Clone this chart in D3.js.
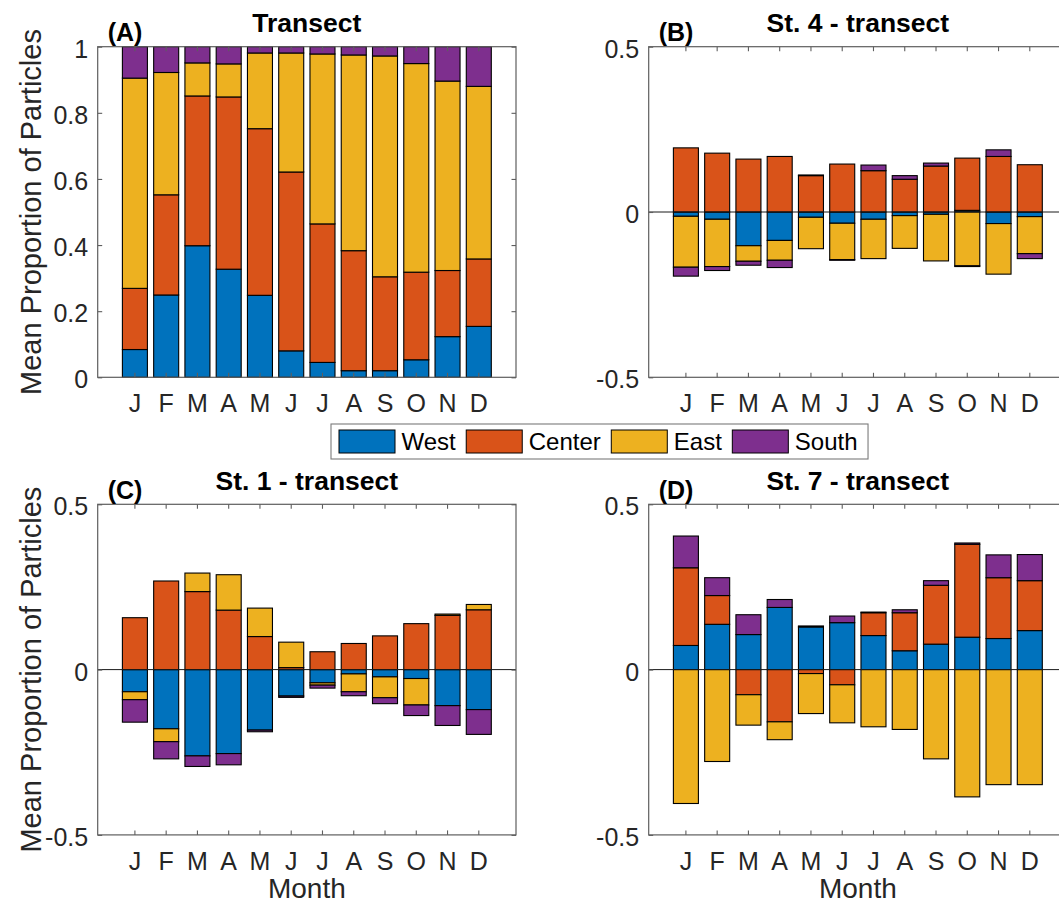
<!DOCTYPE html>
<html>
<head>
<meta charset="utf-8">
<script src="https://cdn.jsdelivr.net/npm/d3@7"></script>
<style>
  body { margin: 0; background: #fff; }
  svg { display: block; }
  text { font-family: "Liberation Sans", Arial, Helvetica, sans-serif; }
</style>
</head>
<body>
<svg id="fig" width="1059" height="911"></svg>
<script>
// Month tick labels and source regions
const monthLabels = ["J", "F", "M", "A", "M", "J", "J", "A", "S", "O", "N", "D"];
const regions = ["West", "Center", "East", "South"];
const regionColors = ["#0072BD", "#D95319", "#EDB120", "#7E2F8E"];

// (A) Transect: mean proportion of particles by source region
const transectWest   = [0.084, 0.249, 0.398, 0.327, 0.248, 0.080, 0.045, 0.020, 0.020, 0.053, 0.123, 0.154];
const transectCenter = [0.185, 0.303, 0.453, 0.521, 0.504, 0.541, 0.419, 0.363, 0.284, 0.265, 0.200, 0.204];
const transectEast   = [0.636, 0.370, 0.100, 0.100, 0.229, 0.360, 0.514, 0.592, 0.668, 0.631, 0.573, 0.522];
const transectSouth  = [0.095, 0.078, 0.049, 0.052, 0.019, 0.019, 0.022, 0.025, 0.028, 0.051, 0.104, 0.120];

// (B) St. 4 minus transect
const st4West   = [-0.013, -0.022, -0.102, -0.086, -0.016, -0.034, -0.022, -0.011, -0.007, 0.005, -0.035, -0.014];
const st4Center = [0.194, 0.178, 0.160, 0.168, 0.110, 0.145, 0.125, 0.099, 0.139, 0.158, 0.168, 0.143];
const st4East   = [-0.154, -0.143, -0.047, -0.060, -0.095, -0.110, -0.119, -0.099, -0.141, -0.163, -0.153, -0.112];
const st4South  = [-0.027, -0.012, -0.012, -0.022, 0.002, -0.002, 0.017, 0.011, 0.009, -0.002, 0.020, -0.015];

// (C) St. 1 minus transect
const st1West   = [-0.067, -0.179, -0.261, -0.254, -0.183, -0.080, -0.040, -0.013, -0.022, -0.027, -0.109, -0.121];
const st1Center = [0.157, 0.268, 0.236, 0.180, 0.100, 0.006, 0.054, 0.079, 0.102, 0.139, 0.164, 0.181];
const st1East   = [-0.024, -0.039, 0.056, 0.107, 0.086, 0.077, -0.007, -0.054, -0.063, -0.080, 0.004, 0.016];
const st1South  = [-0.068, -0.052, -0.032, -0.034, -0.005, -0.004, -0.009, -0.012, -0.018, -0.032, -0.060, -0.075];

// (D) St. 7 minus transect
const st7West   = [0.073, 0.137, 0.106, 0.188, 0.129, 0.142, 0.103, 0.057, 0.077, 0.098, 0.094, 0.118];
const st7Center = [0.235, 0.087, -0.076, -0.158, -0.012, -0.046, 0.069, 0.115, 0.178, 0.281, 0.184, 0.151];
const st7East   = [-0.405, -0.278, -0.092, -0.054, -0.121, -0.115, -0.173, -0.181, -0.270, -0.385, -0.348, -0.348];
const st7South  = [0.096, 0.054, 0.060, 0.024, 0.003, 0.020, 0.002, 0.009, 0.014, 0.004, 0.069, 0.079];

// Y tick values
const proportionTicks = [0, 0.2, 0.4, 0.6, 0.8, 1];
const differenceTicks = [-0.5, 0, 0.5];

const panels = [
  { tag: "(A)", title: "Transect",         series: [transectWest, transectCenter, transectEast, transectSouth], domain: [0, 1],      ticks: proportionTicks, col: 0, row: 0 },
  { tag: "(B)", title: "St. 4 - transect", series: [st4West, st4Center, st4East, st4South],                     domain: [-0.5, 0.5], ticks: differenceTicks, col: 1, row: 0 },
  { tag: "(C)", title: "St. 1 - transect", series: [st1West, st1Center, st1East, st1South],                     domain: [-0.5, 0.5], ticks: differenceTicks, col: 0, row: 1 },
  { tag: "(D)", title: "St. 7 - transect", series: [st7West, st7Center, st7East, st7South],                     domain: [-0.5, 0.5], ticks: differenceTicks, col: 1, row: 1 }
];

// Layout
const axW = 418.3, axH = 330.6;
const colLeft = [97.7, 648.7];
const rowTop = [46.7, 504.3];
const tickLen = 4.5;
const axisColor = "#5e5e5e";
const textColor = "#262626";

const svg = d3.select("#fig");
svg.append("rect").attr("width", 1059).attr("height", 911).attr("fill", "#fff");

function drawPanel(p) {
  const left = colLeft[p.col], top = rowTop[p.row];
  const g = svg.append("g");

  const x = d3.scaleBand()
    .domain(d3.range(monthLabels.length))
    .range([left, left + axW])
    .paddingInner(0.2)
    .paddingOuter(0.79);
  const y = d3.scaleLinear().domain(p.domain).range([top + axH, top]);

  const rows = d3.range(monthLabels.length).map(i => {
    const r = { i };
    regions.forEach((k, j) => { r[k] = p.series[j][i]; });
    return r;
  });
  const stacked = d3.stack()
    .keys(regions)
    .order(d3.stackOrderNone)
    .offset(d3.stackOffsetDiverging)(rows);

  g.append("g").selectAll("g")
    .data(stacked)
    .join("g")
    .attr("fill", (d, j) => regionColors[j])
    .selectAll("rect")
    .data(d => d)
    .join("rect")
    .attr("x", d => x(d.data.i))
    .attr("width", x.bandwidth())
    .attr("y", d => y(Math.max(d[0], d[1])))
    .attr("height", d => Math.abs(y(d[0]) - y(d[1])))
    .attr("stroke", "#000")
    .attr("stroke-width", 1.1);

  // zero reference line
  if (p.domain[0] < 0) {
    g.append("line")
      .attr("x1", left).attr("x2", left + axW)
      .attr("y1", y(0)).attr("y2", y(0))
      .attr("stroke", "#1a1a1a").attr("stroke-width", 1);
  }

  // axes with inward ticks on all four sides
  const bottom = g.append("g").attr("transform", `translate(0,${top + axH})`)
    .call(d3.axisBottom(x).tickSizeInner(-tickLen).tickSizeOuter(0).tickPadding(0)
      .tickFormat(i => monthLabels[i]));
  g.append("g").attr("transform", `translate(0,${top})`)
    .call(d3.axisTop(x).tickSizeInner(-tickLen).tickSizeOuter(0).tickFormat(""));
  const leftAx = g.append("g").attr("transform", `translate(${left},0)`)
    .call(d3.axisLeft(y).tickValues(p.ticks).tickSizeInner(-tickLen).tickSizeOuter(0).tickPadding(9.5)
      .tickFormat(d => String(d)));
  g.append("g").attr("transform", `translate(${left + axW},0)`)
    .call(d3.axisRight(y).tickValues(p.ticks).tickSizeInner(-tickLen).tickSizeOuter(0).tickFormat(""));

  g.selectAll(".domain").remove();
  g.selectAll(".tick line").attr("stroke", axisColor).attr("stroke-width", 1.1);

  bottom.selectAll("text")
    .attr("y", 35).attr("dy", null)
    .attr("font-size", 25).attr("fill", textColor);
  leftAx.selectAll("text")
    .attr("dy", 10.5)
    .attr("font-size", 25).attr("fill", textColor);

  // axis box
  g.append("rect")
    .attr("x", left).attr("y", top).attr("width", axW).attr("height", axH)
    .attr("fill", "none").attr("stroke", axisColor).attr("stroke-width", 1.2);

  // title and panel tag
  g.append("text")
    .attr("x", left + axW / 2).attr("y", top - 14.7)
    .attr("text-anchor", "middle")
    .attr("font-size", 26.5).attr("font-weight", "bold").attr("fill", "#000")
    .text(p.title);
  g.append("text")
    .attr("x", left + 10).attr("y", top - 5.5)
    .attr("font-size", 25).attr("font-weight", "bold").attr("fill", "#000")
    .text(p.tag);

  if (p.col === 0) {
    g.append("text")
      .attr("transform", `translate(41,${top + axH / 2}) rotate(-90)`)
      .attr("text-anchor", "middle")
      .attr("font-size", 29).attr("fill", textColor)
      .text("Mean Proportion of Particles");
  }
  if (p.row === 1) {
    g.append("text")
      .attr("x", left + axW / 2).attr("y", top + axH + 63)
      .attr("text-anchor", "middle")
      .attr("font-size", 28).attr("fill", textColor)
      .text("Month");
  }
}

panels.forEach(drawPanel);

// Legend
const legend = svg.append("g");
const legBox = legend.append("rect")
  .attr("fill", "#fff").attr("stroke", "#7a7a7a").attr("stroke-width", 1.1);
let lx = 339;
const swW = 56, swH = 23, swY = 430;
regions.forEach((name, j) => {
  legend.append("rect")
    .attr("x", lx).attr("y", swY).attr("width", swW).attr("height", swH)
    .attr("fill", regionColors[j]).attr("stroke", "#000").attr("stroke-width", 1);
  const t = legend.append("text")
    .attr("x", lx + swW + 6.5).attr("y", swY + swH / 2 + 8.5)
    .attr("font-size", 24).attr("fill", "#000")
    .text(name);
  lx = lx + swW + 6.5 + t.node().getComputedTextLength() + 10.5;
});
legBox.attr("x", 331).attr("y", 424).attr("width", lx - 331).attr("height", 35);
</script>
</body>
</html>
